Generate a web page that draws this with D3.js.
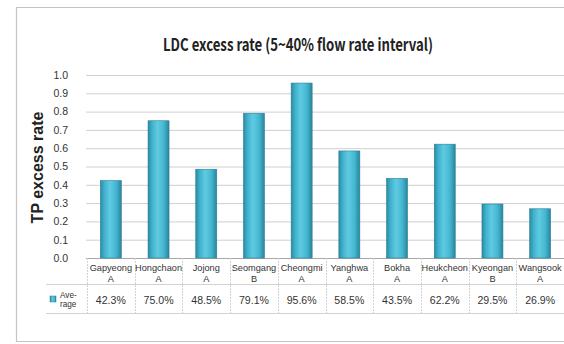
<!DOCTYPE html>
<html>
<head>
<meta charset="utf-8">
<script src="https://cdn.jsdelivr.net/npm/d3@7"></script>
<style>
  html, body { margin: 0; padding: 0; background: #fff; }
  svg { display: block; }
</style>
</head>
<body>
<svg id="chart" width="564" height="344"></svg>
<script>
// Monitoring stations (name on first line, unit grade on second line)
const stations = ["Gapyeong", "Hongchaon", "Jojong", "Seomgang", "Cheongmi", "Yanghwa", "Bokha", "Heukcheon", "Kyeongan", "Wangsook"];
const grades   = ["A", "A", "A", "B", "A", "A", "A", "A", "B", "A"];
// Average TP excess rate for each station (fraction)
const averageRate = [0.423, 0.750, 0.485, 0.791, 0.956, 0.585, 0.435, 0.622, 0.295, 0.269];
const yTicks = [0, 0.1, 0.2, 0.3, 0.4, 0.5, 0.6, 0.7, 0.8, 0.9, 1.0];

const titleText = "LDC excess rate (5~40% flow rate interval)";
const yLabel = "TP excess rate";
const seriesLabel = ["Ave-", "rage"];

const svg = d3.select("#chart");
const W = 564, H = 344;
const plot = { left: 87, right: 564, top: 75, bottom: 258 };
const table = { headBottom: 284, bottom: 313, legendLeft: 46 };

// Outer chart frame
svg.append("path")
  .attr("d", `M${W},7.5 H16.5 V341.5 H${W}`)
  .attr("fill", "none").attr("stroke", "#c4c4c4").attr("stroke-width", 1.2);

// Gradient giving the bars a rounded, shaded look
const defs = svg.append("defs");
const grad = defs.append("linearGradient").attr("id", "barGrad")
  .attr("x1", "0%").attr("x2", "100%").attr("y1", "0%").attr("y2", "0%");
[["0%", "#2a8aa3"], ["18%", "#3fb0cb"], ["45%", "#5fcbe2"], ["75%", "#45b6d0"], ["100%", "#27859e"]]
  .forEach(([o, c]) => grad.append("stop").attr("offset", o).attr("stop-color", c));

const y = d3.scaleLinear().domain([0, 1]).range([plot.bottom, plot.top]);
const xCell = d3.scaleBand().domain(stations).range([plot.left, plot.right]).padding(0);
const xBar = d3.scaleBand().domain(stations).range([plot.left, plot.right])
  .paddingInner(0.56).paddingOuter(0.28);

// Title
svg.append("text")
  .attr("x", 298).attr("y", 51)
  .attr("text-anchor", "middle")
  .attr("font-family", "'Noto Sans CJK KR', 'Noto Sans', sans-serif")
  .attr("font-weight", 700).attr("font-size", 17)
  .attr("textLength", 270).attr("lengthAdjust", "spacingAndGlyphs")
  .attr("fill", "#222")
  .text(titleText);

// Y axis with gridlines
const yAxis = d3.axisLeft(y).tickValues(yTicks).tickFormat(d3.format(".1f"))
  .tickSize(-(plot.right - plot.left + 1)).tickPadding(18);
const gy = svg.append("g").attr("transform", `translate(${plot.left - 1},0)`).call(yAxis);
gy.select(".domain").remove();
gy.selectAll(".tick line").attr("stroke", "#cfcfcf").attr("stroke-width", 1);
gy.selectAll(".tick text")
  .attr("font-family", "'Liberation Sans', Arial, sans-serif")
  .attr("font-size", 10.5).attr("fill", "#333");
gy.selectAll(".tick").filter(d => d === 0).select("line").attr("stroke", "#a8a8a8");

// Y axis title
svg.append("text")
  .attr("transform", `translate(43,${(plot.top + plot.bottom) / 2 + 1}) rotate(-90)`)
  .attr("text-anchor", "middle")
  .attr("font-family", "'Liberation Sans', Arial, sans-serif")
  .attr("font-weight", 700).attr("font-size", 16)
  .attr("fill", "#222")
  .text(yLabel);

// Bars
svg.append("g").selectAll("rect")
  .data(stations.map((s, i) => ({ s, v: averageRate[i] })))
  .join("rect")
  .attr("x", d => xBar(d.s))
  .attr("width", xBar.bandwidth())
  .attr("y", d => y(d.v))
  .attr("height", d => y(0) - y(d.v))
  .attr("fill", "url(#barGrad)")
  .attr("stroke", "#2a7f96").attr("stroke-width", 0.6);

// Data table beneath the axis
const tbl = svg.append("g");
const lineColor = "#d2d2d2";
tbl.append("line")
  .attr("x1", table.legendLeft).attr("x2", plot.right)
  .attr("y1", table.headBottom + 0.5).attr("y2", table.headBottom + 0.5)
  .attr("stroke", lineColor);
tbl.append("line")
  .attr("x1", table.legendLeft).attr("x2", plot.right)
  .attr("y1", table.bottom + 0.5).attr("y2", table.bottom + 0.5)
  .attr("stroke", lineColor);
tbl.selectAll("line.sep")
  .data(stations)
  .join("line").attr("class", "sep")
  .attr("x1", d => Math.round(xCell(d)) + 0.5).attr("x2", d => Math.round(xCell(d)) + 0.5)
  .attr("y1", plot.bottom).attr("y2", table.bottom)
  .attr("stroke", lineColor).attr("stroke-dasharray", "2,1");

const catFont = "'Liberation Sans', Arial, sans-serif";
tbl.selectAll("text.cat")
  .data(stations)
  .join("text").attr("class", "cat")
  .attr("x", d => xCell(d) + xCell.bandwidth() / 2)
  .attr("y", 271)
  .attr("text-anchor", "middle")
  .attr("font-family", catFont).attr("font-size", 9.2).attr("fill", "#333")
  .text(d => d);
tbl.selectAll("text.grade")
  .data(stations.map((s, i) => ({ s, g: grades[i] })))
  .join("text").attr("class", "grade")
  .attr("x", d => xCell(d.s) + xCell.bandwidth() / 2)
  .attr("y", 281.5)
  .attr("text-anchor", "middle")
  .attr("font-family", catFont).attr("font-size", 9.2).attr("fill", "#333")
  .text(d => d.g);

const pct = d3.format(".1%");
tbl.selectAll("text.val")
  .data(stations.map((s, i) => ({ s, v: averageRate[i] })))
  .join("text").attr("class", "val")
  .attr("x", d => xCell(d.s) + xCell.bandwidth() / 2)
  .attr("y", 304)
  .attr("text-anchor", "middle")
  .attr("font-family", catFont).attr("font-size", 11.5).attr("fill", "#333")
  .attr("textLength", 30).attr("lengthAdjust", "spacingAndGlyphs")
  .text(d => pct(d.v));

// Series key in the table's first column
tbl.append("rect")
  .attr("x", 50).attr("y", 296).attr("width", 6).attr("height", 6)
  .attr("fill", "url(#barGrad)").attr("stroke", "#2a7f96").attr("stroke-width", 0.5);
tbl.selectAll("text.key")
  .data(seriesLabel)
  .join("text").attr("class", "key")
  .attr("x", 60).attr("y", (d, i) => 298 + i * 9)
  .attr("font-family", catFont).attr("font-size", 8.2).attr("fill", "#333")
  .text(d => d);
</script>
</body>
</html>
